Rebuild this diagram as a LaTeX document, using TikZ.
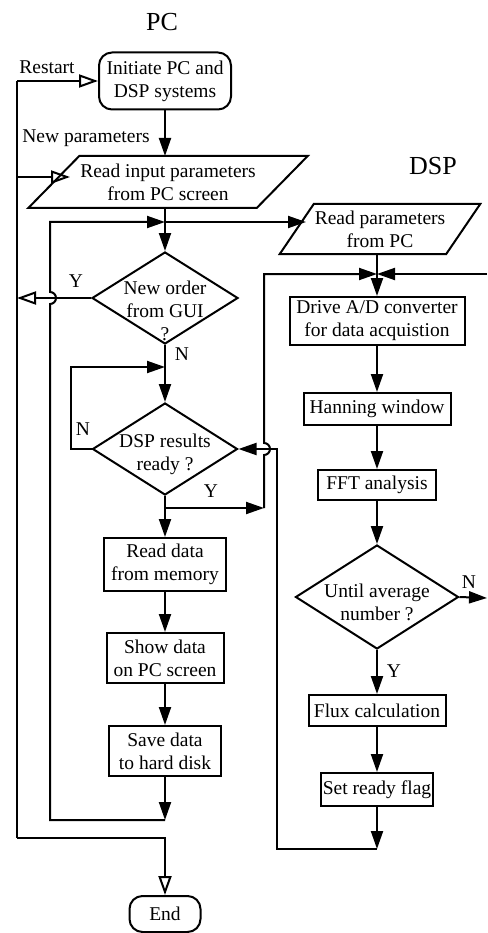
\documentclass[tikz,border=0pt]{standalone}
\usepackage{fontspec}
\setmainfont{Liberation Serif}
\usetikzlibrary{arrows.meta,shapes.geometric,calc}
\begin{document}
\begin{tikzpicture}[x=1pt,y=-1pt,line width=2pt,
  base/.style={font=\fontsize{19.5}{23}\selectfont,align=center,inner sep=0pt},
  title/.style={font=\fontsize{26}{30}\selectfont,inner sep=0pt},
  box/.style={base,draw,rectangle},
  rbox/.style={box,rounded corners=13pt},
  dia/.style={draw,diamond,inner sep=0pt},
  lab/.style={base},
  farr/.style={-{Triangle[length=18pt,width=12pt]}},
  oarr/.style={-{Triangle[open,length=19pt,width=13pt]}}]
\useasboundingbox (0,0) rectangle (487,933);

% column titles
\node[title] (pct) at (162,22) {PC};
\node[title] (dspt) at (433,166) {DSP};

% ---- PC side ----
\node[rbox,minimum width=132pt,minimum height=57pt] (init) at (165,81) {Initiate PC and\\DSP systems};
\node[base,minimum width=156pt,minimum height=50pt] (p1) at (168,182) {Read input parameters\\from PC screen};
\draw (p1.north west) -- ([xshift=51pt]p1.north east) -- (p1.south east) -- ([xshift=-51pt]p1.south west) -- cycle;

\node[dia,minimum width=146pt,minimum height=92pt] (d1) at (165,298) {};
\node[base] (d1t) at (165,311) {New order\\from GUI\\?};

\node[dia,minimum width=145pt,minimum height=92pt] (d2) at (165,449) {};
\node[base] (d2t) at (165,454) {DSP results\\ready ?};

\node[box,minimum width=122pt,minimum height=53pt] (rdata) at (165,564.5) {Read data\\from memory};
\node[box,minimum width=117pt,minimum height=50pt] (show) at (165,658) {Show data\\on PC screen};
\node[box,minimum width=112pt,minimum height=50pt] (save) at (165,751) {Save data\\to hard disk};
\node[rbox,minimum width=71pt,minimum height=36pt] (fin) at (165,914) {End};

% ---- DSP side ----
\node[base,minimum width=125pt,minimum height=48pt] (p2) at (380,229) {Read parameters\\from PC};
\draw (p2.north west) -- ([xshift=34pt]p2.north east) -- (p2.south east) -- ([xshift=-34pt]p2.south west) -- cycle;

\node[box,minimum width=175pt,minimum height=48pt] (drive) at (377,321) {Drive A/D converter\\for data acquistion};
\node[box,minimum width=147pt,minimum height=32pt] (hann) at (377,409) {Hanning window};
\node[box,minimum width=118pt,minimum height=30pt] (fft) at (377,485) {FFT analysis};
\node[dia,minimum width=163pt,minimum height=104pt] (d3) at (377,597) {};
\node[base] (d3t) at (377,602) {Until average\\number ?};
\node[box,minimum width=137pt,minimum height=31pt] (flux) at (377,710.5) {Flux calculation};
\node[box,minimum width=112pt,minimum height=33pt] (ready) at (377,789.5) {Set ready flag};

% ---- labels ----
\node[lab] (lrestart) at (47,67) {Restart};
\node[lab] (lnewpar) at (86,138) {New parameters};
\node[lab] (ly1) at (76,281) {Y};
\node[lab] (ln1) at (182,354) {N};
\node[lab] (ln2) at (83,429) {N};
\node[lab] (ly2) at (211,491) {Y};
\node[lab] (ln3) at (469,582) {N};
\node[lab] (ly3) at (394,671) {Y};

% ---- helper points ----
\coordinate (ltop) at (17,81);
\coordinate (lbot) at (17,838);
\coordinate (np) at (17,177);
\coordinate (npin) at (70,177);
\coordinate (ytip) at (17,298);
\coordinate (j1) at (165,222);
\coordinate (p2in) at (306,222);
\coordinate (sv) at (165,820);
\coordinate (lb2) at (50,820);
\coordinate (lt2) at (50,222);
\coordinate (j3) at (165,367);
\coordinate (j4) at (165,508);
\coordinate (c4) at (264,508);
\coordinate (j2) at (377,274);
\coordinate (redge) at (487,274);
\coordinate (nedge) at (487,598);
\coordinate (c5) at (377,849);

% ---- PC connectors ----
\draw (ltop) -- (lbot);
\draw[oarr] (ltop) -- (init.west);
\draw[oarr] (lbot) -| (fin.north);
\draw[oarr] (np) -- (npin);
\draw[farr] (init.south) -- (init.south |- p1.north);
\draw[farr] (p1.south -| d1.north) -- (d1.north);
\draw[farr] (j1) -- (p2in);
\draw[farr] (save.south) -- (sv);
\draw[farr] (sv) -- (lb2) -- (50,304) arc[start angle=-90,end angle=90,radius=6pt] -- (lt2) -- (j1);
\draw[oarr] (d1.west) -- (ytip);
\draw[farr] (d1.south) -- (d2.north);
\draw[farr] (d2.west) -- (71,449) -- (71,367) -- (j3);
\draw[farr] (d2.south) -- (rdata.north);
\draw[farr] (j4) -- (c4);
\draw[farr] (c4) -- (264,455) arc[start angle=-90,end angle=90,radius=6pt] -- (264,274) -- (j2);
\draw[farr] (rdata.south) -- (show.north);
\draw[farr] (show.south) -- (save.north);

% ---- DSP connectors ----
\draw[farr] (redge) -- (j2);
\draw[farr] (p2.south -| drive.north) -- (drive.north);
\draw[farr] (drive.south) -- (hann.north);
\draw[farr] (hann.south) -- (fft.north);
\draw[farr] (fft.south) -- (d3.north);
\draw[farr] (d3.south) -- (flux.north);
\draw[farr] (flux.south) -- (ready.north);
\draw[farr] (d3.east) -- (nedge);
\draw[farr] (ready.south) -- (c5);
\draw[farr] (c5) -- (277,849) -- (277,449) -- (d2.east);
\end{tikzpicture}
\end{document}
